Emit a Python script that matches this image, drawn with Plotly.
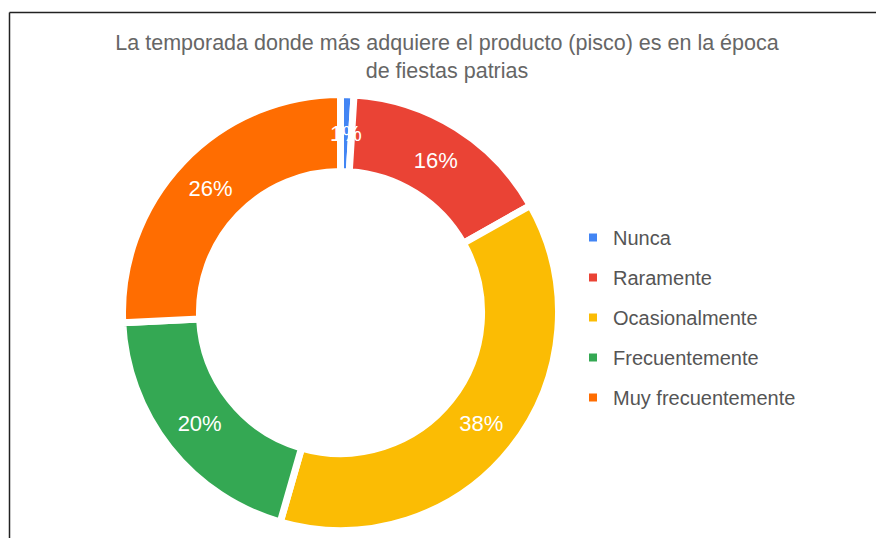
import math
import plotly.graph_objects as go

title_text = "La temporada donde más adquiere el producto (pisco) es en la época<br>de fiestas patrias"
categories = ["Nunca", "Raramente", "Ocasionalmente", "Frecuentemente", "Muy frecuentemente"]
values = [1, 16, 38, 20, 26]
colors = ["#4285F4", "#EA4335", "#FBBC04", "#34A853", "#FF6D01"]

W, H = 876, 538
cx, cy, R = 340.5, 312.5, 218
HOLE = 0.647
LINE_W = 7

total = sum(values)
pcts = [round(100 * v / total) for v in values]
# small slices: label drawn on top (as in the reference, where "1%" overflows its slice)
small = [p < 3 for p in pcts]
texts = ["" if s else f"{p}%" for s, p in zip(small, pcts)]

fig = go.Figure()
fig.add_trace(go.Pie(
    labels=categories, values=values, sort=False, direction="clockwise", rotation=0,
    hole=HOLE,
    marker=dict(colors=colors, line=dict(color="white", width=LINE_W)),
    text=texts, textinfo="text", textposition="inside",
    insidetextorientation="horizontal",
    textfont=dict(family="Liberation Sans, Arial", size=22, color="white"),
    domain=dict(x=[(cx - R) / W, (cx + R) / W], y=[1 - (cy + R) / H, 1 - (cy - R) / H]),
    showlegend=False, hoverinfo="label+percent",
))

annotations = []
cum = 0
rmid = (R + HOLE * R) / 2
for v, p, s in zip(values, pcts, small):
    mid = (cum + v / 2) / total
    cum += v
    if not s:
        continue
    a = 2 * math.pi * mid
    px = cx + rmid * math.sin(a)
    py = cy - rmid * math.cos(a)
    annotations.append(dict(
        x=px / W, y=1 - py / H, xref="paper", yref="paper", text=f"{p}%", showarrow=False,
        xanchor="center", yanchor="middle",
        font=dict(family="Liberation Sans, Arial", size=22, color="white"),
    ))

for cat, col in zip(categories, colors):
    fig.add_trace(go.Scatter(
        x=[None], y=[None], mode="markers", name=cat, legendgroup=cat,
        marker=dict(symbol="square", size=8, color=col),
        showlegend=True,
    ))

fig.update_layout(
    width=W, height=H,
    margin=dict(l=0, r=0, t=0, b=0),
    paper_bgcolor="white", plot_bgcolor="white",
    title=dict(text=title_text, x=447 / W, xanchor="center", y=1 - 50 / H, yanchor="top",
               font=dict(family="Liberation Sans, Arial", size=21.5, color="#666666")),
    xaxis=dict(visible=False), yaxis=dict(visible=False),
    legend=dict(x=573 / W, xanchor="left", y=1 - 218 / H, yanchor="top",
                font=dict(family="Liberation Sans, Arial", size=20, color="#555555"),
                tracegroupgap=11, itemwidth=30, bgcolor="rgba(0,0,0,0)",
                traceorder="grouped"),
    annotations=annotations,
    shapes=[
        dict(type="line", xref="paper", yref="paper", x0=9.5 / W, x1=9.5 / W, y0=0, y1=1 - 12.5 / H,
             line=dict(color="#222222", width=1.5)),
        dict(type="line", xref="paper", yref="paper", x0=9.5 / W, x1=1, y0=1 - 12.5 / H, y1=1 - 12.5 / H,
             line=dict(color="#222222", width=1.5)),
    ],
)
fig.write_html("out.html", config={"displayModeBar": False},
               post_script="document.body.style.margin='0';document.body.style.overflow='hidden';")
